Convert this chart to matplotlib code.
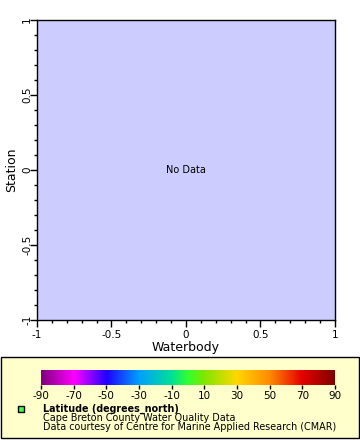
import numpy as np
import matplotlib
matplotlib.use('Agg')
import matplotlib.pyplot as plt
from matplotlib.colors import LinearSegmentedColormap
from matplotlib.patches import Rectangle
from matplotlib.ticker import MultipleLocator

# axis ranges / ticks
x_range = [-1, 1]
y_range = [-1, 1]
x_ticks = [-1, -0.5, 0, 0.5, 1]
x_tick_labels = ['-1', '-0.5', '0', '0.5', '1']
y_ticks = [-1, -0.5, 0, 0.5, 1]
y_tick_labels = ['-1', '-0.5', '0', '0.5', '1']
x_label = 'Waterbody'
y_label = 'Station'
no_data_text = 'No Data'

# colorbar
cbar_ticks = [-90, -70, -50, -30, -10, 10, 30, 50, 70, 90]
cbar_nodes = [-90, -70, -50, -30, -10, 0, 10, 30, 50, 70, 90]
cbar_colors = ['#800080', '#ff00ff', '#2000ff', '#00a0ff', '#00e096', '#32ff32',
               '#80e600', '#ffd700', '#ff8c00', '#e60000', '#800000']

legend_title = 'Latitude (degrees_north)'
legend_lines = ['Cape Breton County Water Quality Data',
                'Data courtesy of Centre for Marine Applied Research (CMAR)']

plt.rcParams['font.family'] = ['DejaVu Sans']

W, H = 360, 440
fig = plt.figure(figsize=(W / 100, H / 100), dpi=100)

# main axes
ax = fig.add_axes([37 / W, 1 - 320 / H, 298 / W, 300 / H])
ax.set_facecolor('#ccccff')
ax.set_xlim(x_range)
ax.set_ylim(y_range)
ax.set_xticks(x_ticks)
ax.set_xticklabels(x_tick_labels, fontsize=7.5)
ax.set_yticks(y_ticks)
ax.set_yticklabels(y_tick_labels, fontsize=7.5, rotation=90, va='center')
ax.xaxis.set_minor_locator(MultipleLocator(0.1))
ax.yaxis.set_minor_locator(MultipleLocator(0.1))
ax.tick_params(which='major', length=5, width=1)
ax.tick_params(which='minor', length=2.5, width=1)
ax.tick_params(axis='x', which='major', pad=2)
ax.tick_params(axis='y', which='major', pad=-1.5)
ax.set_xlabel(x_label, fontsize=9, labelpad=1)
ax.set_ylabel(y_label, fontsize=9, labelpad=3)
ax.text(0, 0, no_data_text, fontsize=7, ha='center', va='center')
for s in ax.spines.values():
    s.set_linewidth(1)

# legend box
fig.patches.append(Rectangle((0.5 / W, 1 - 438 / H), 358.5 / W, 81 / H,
                             transform=fig.transFigure, facecolor='#ffffcc',
                             edgecolor='black', linewidth=1, zorder=-1))

# colorbar
pos = [(v - cbar_nodes[0]) / (cbar_nodes[-1] - cbar_nodes[0]) for v in cbar_nodes]
cmap = LinearSegmentedColormap.from_list('rainbow2', list(zip(pos, cbar_colors)))
cax = fig.add_axes([41 / W, 1 - 385 / H, 294 / W, 15 / H])
cax.patch.set_alpha(0)
grad = np.linspace(cbar_nodes[0], cbar_nodes[-1], 512).reshape(1, -1)
cax.imshow(grad, aspect='auto', cmap=cmap,
           extent=[cbar_nodes[0], cbar_nodes[-1], 0, 1])
cax.set_xlim(cbar_nodes[0], cbar_nodes[-1])
cax.set_xticks(cbar_ticks)
cax.set_xticklabels([str(t) for t in cbar_ticks], fontsize=7.5)
cax.set_yticks([])
cax.tick_params(axis='x', length=3, width=1, pad=1)
for s in cax.spines.values():
    s.set_visible(False)

# marker + legend text
fig.patches.append(Rectangle((18 / W, 1 - 412 / H), 6 / W, 6 / H,
                             transform=fig.transFigure, facecolor='#40ff40',
                             edgecolor='black', linewidth=1))
fig.text(43 / W, 1 - 409 / H, legend_title, fontsize=6.9, fontweight='bold',
         va='center', ha='left')
fig.text(43 / W, 1 - 418 / H, legend_lines[0], fontsize=6.9, va='center', ha='left')
fig.text(43 / W, 1 - 427 / H, legend_lines[1], fontsize=6.9, va='center', ha='left')

fig.savefig('out.png', dpi=100)
